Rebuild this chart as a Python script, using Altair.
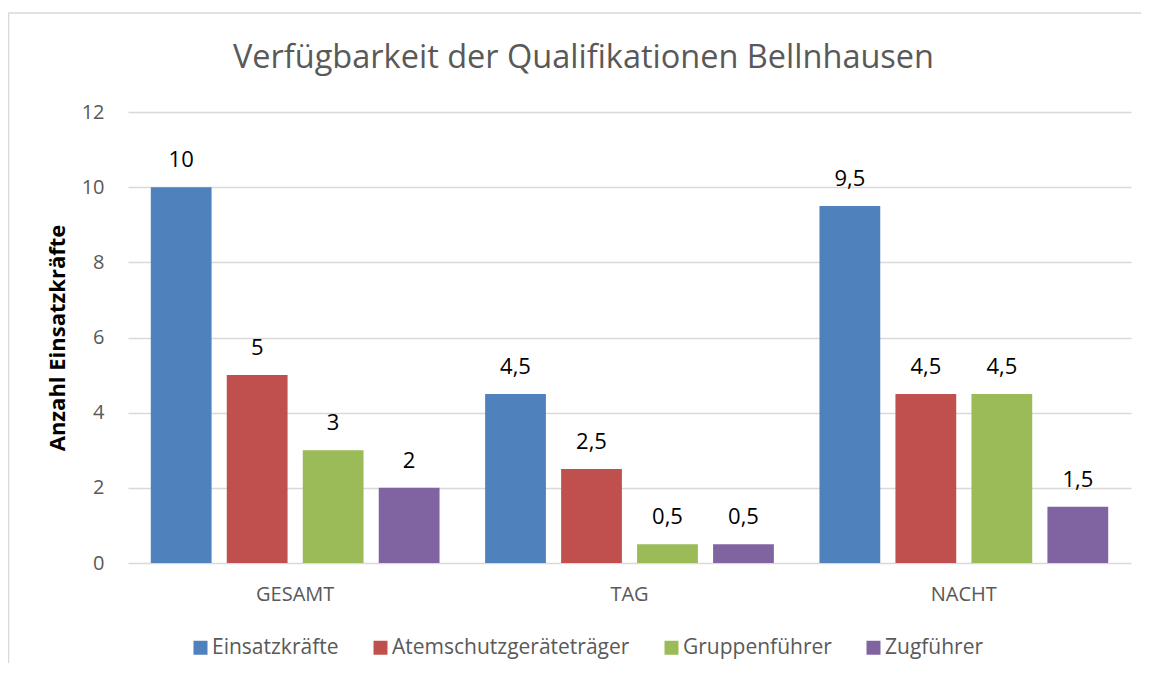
import altair as alt
import pandas as pd

categories = ["GESAMT", "TAG", "NACHT"]
series = ["Einsatzkräfte", "Atemschutzgeräteträger", "Gruppenführer", "Zugführer"]
colors = ["#4F81BD", "#C0504D", "#9BBB59", "#8064A2"]
einsatzkraefte = [10, 4.5, 9.5]
atemschutz = [5, 2.5, 4.5]
gruppenfuehrer = [3, 0.5, 4.5]
zugfuehrer = [2, 0.5, 1.5]
y_ticks = [0, 2, 4, 6, 8, 10, 12]

rows = []
for s, vals in zip(series, [einsatzkraefte, atemschutz, gruppenfuehrer, zugfuehrer]):
    for c, v in zip(categories, vals):
        rows.append({"Kategorie": c, "Reihe": s, "Wert": v,
                     "Label": f"{v:g}".replace(".", ",")})
df = pd.DataFrame(rows)

FONT = "Open Sans"
GREY = "#595959"
GRID = "#D9D9D9"

base = alt.Chart(df).encode(
    x=alt.X("Kategorie:N", sort=categories,
            scale=alt.Scale(paddingInner=0, paddingOuter=0),
            axis=alt.Axis(title=None, labelAngle=0, labelFontSize=20, labelColor=GREY,
                          labelFont=FONT, labelPadding=21, ticks=False, tickSize=0,
                          domain=False, grid=False)),
    xOffset=alt.XOffset("Reihe:N", sort=series,
                        scale=alt.Scale(paddingInner=0.2, paddingOuter=0.3)),
    y=alt.Y("Wert:Q", scale=alt.Scale(domain=[0, 12]),
            axis=alt.Axis(values=y_ticks, title="Anzahl Einsatzkräfte",
                          titleFont=FONT, titleFontSize=22, titleFontWeight="bold",
                          titleColor="black", titlePadding=12,
                          labelFont=FONT, labelFontSize=20, labelColor=GREY,
                          labelPadding=24, ticks=False, tickSize=0, domain=False,
                          grid=True, gridColor=GRID, gridWidth=1.3)),
)

bars = base.mark_bar().encode(
    color=alt.Color("Reihe:N", sort=series,
                    scale=alt.Scale(domain=series, range=colors),
                    legend=alt.Legend(title=None, orient="none", direction="horizontal",
                                      legendX=62, legendY=525, symbolType="square",
                                      symbolSize=196, symbolStrokeWidth=0,
                                      labelFont=FONT, labelFontSize=21, labelColor=GREY,
                                      labelOffset=1, columnPadding=31, labelLimit=400))
)

text = base.mark_text(dy=-15, baseline="bottom", fontSize=22, color="black",
                      font=FONT).encode(text="Label:N")

frame_df = pd.DataFrame({"a": [0]})
top_line = alt.Chart(frame_df).mark_rule(color=GRID, strokeWidth=1.5).encode(
    x=alt.value(-119.5), x2=alt.value(1030), y=alt.value(-99))
left_line = alt.Chart(frame_df).mark_rule(color=GRID, strokeWidth=1.5).encode(
    x=alt.value(-119.5), y=alt.value(-99), y2=alt.value(660))

chart = alt.layer(top_line, left_line, bars, text).properties(
    width=1003, height=451,
    title=alt.TitleParams("Verfügbarkeit der Qualifikationen Bellnhausen",
                          font=FONT, fontSize=32.5, fontWeight="normal", color=GREY,
                          anchor="middle", dx=-46, offset=-88, baseline="alphabetic"),
    autosize=alt.AutoSizeParams(type="none"),
    padding={"left": 120, "top": 104, "right": 10, "bottom": 100},
).configure_view(stroke=None)

chart.save("out.html", embed_options={"renderer": "svg", "actions": False})
